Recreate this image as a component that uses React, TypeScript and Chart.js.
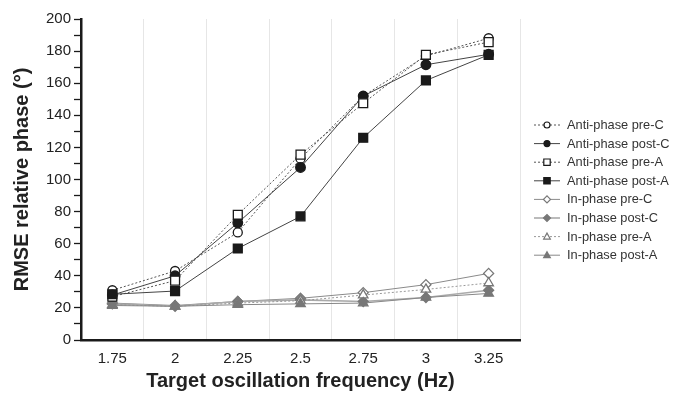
import React, { useEffect, useRef } from "react";
import { Chart, registerables } from "chart.js";

Chart.register(...registerables);

const categories = ["1.75", "2", "2.25", "2.5", "2.75", "3", "3.25"];

const antiPreC = [31, 43, 67, 113, 152, 177, 188];
const antiPostC = [28, 40, 73, 107.5, 152, 171.5, 178];
const antiPreA = [27, 37, 78, 115.5, 147.5, 177.7, 185.6];
const antiPostA = [28.5, 30.5, 57, 77, 126, 161.7, 177.7];
const inPreC = [23, 21.5, 24, 26, 29.5, 34.5, 41.5];
const inPostC = [22.5, 21, 24, 25, 24, 26.5, 31];
const inPreA = [22, 21, 23, 24.5, 28, 31.5, 35.5];
const inPostA = [21.5, 21, 22, 22.5, 23, 26.5, 29];

const seriesNames = [
  "Anti-phase pre-C",
  "Anti-phase post-C",
  "Anti-phase pre-A",
  "Anti-phase post-A",
  "In-phase pre-C",
  "In-phase post-C",
  "In-phase pre-A",
  "In-phase post-A",
];

const FONT = "'Liberation Sans', Arial, Helvetica, sans-serif";
const BLACK = "#1a1a1a";
const GRAY = "#777777";

type Style = {
  shape: "circle" | "rect" | "rectRot" | "triangle";
  fill: string;
  stroke: string;
  line: string;
  lineWidth: number;
  dash: number[];
  radius: number;
  order: number;
};

const styles: Style[] = [
  { shape: "circle", fill: "#ffffff", stroke: BLACK, line: "#555555", lineWidth: 1, dash: [2, 2], radius: 4.5, order: 3 },
  { shape: "circle", fill: BLACK, stroke: BLACK, line: "#444444", lineWidth: 1, dash: [], radius: 4.8, order: 2 },
  { shape: "rect", fill: "#ffffff", stroke: BLACK, line: "#555555", lineWidth: 1, dash: [2, 2], radius: 6.3, order: 1 },
  { shape: "rect", fill: BLACK, stroke: BLACK, line: "#444444", lineWidth: 1, dash: [], radius: 6.3, order: 0 },
  { shape: "rectRot", fill: "#ffffff", stroke: GRAY, line: "#8a8a8a", lineWidth: 1, dash: [], radius: 5, order: 7 },
  { shape: "rectRot", fill: GRAY, stroke: GRAY, line: "#aaaaaa", lineWidth: 1.6, dash: [], radius: 5, order: 6 },
  { shape: "triangle", fill: "#ffffff", stroke: GRAY, line: "#999999", lineWidth: 1, dash: [2, 2], radius: 5.5, order: 5 },
  { shape: "triangle", fill: GRAY, stroke: GRAY, line: "#888888", lineWidth: 1, dash: [], radius: 5.5, order: 4 },
];

const seriesData = [antiPreC, antiPostC, antiPreA, antiPostA, inPreC, inPostC, inPreA, inPostA];

function drawMarker(ctx: CanvasRenderingContext2D, shape: string, x: number, y: number, r: number) {
  ctx.beginPath();
  if (shape === "circle") {
    ctx.arc(x, y, r, 0, Math.PI * 2);
  } else if (shape === "rect") {
    ctx.rect(x - r, y - r, 2 * r, 2 * r);
  } else if (shape === "rectRot") {
    ctx.moveTo(x - r, y);
    ctx.lineTo(x, y - r);
    ctx.lineTo(x + r, y);
    ctx.lineTo(x, y + r);
    ctx.closePath();
  } else {
    ctx.moveTo(x, y - r);
    ctx.lineTo(x + r * 0.95, y + r * 0.7);
    ctx.lineTo(x - r * 0.95, y + r * 0.7);
    ctx.closePath();
  }
  ctx.fill();
  ctx.stroke();
}

const legendPlugin = {
  id: "customLegend",
  afterDraw(chart: any) {
    const ctx: CanvasRenderingContext2D = chart.ctx;
    const right = chart.chartArea.right;
    const x0 = right + 14;
    const x1 = right + 40;
    const mx = right + 27;
    const tx = right + 47;
    const y0 = 125;
    const step = 18.6;
    ctx.save();
    seriesNames.forEach((name, i) => {
      const s = styles[i];
      const y = y0 + i * step;
      ctx.strokeStyle = s.line;
      ctx.lineWidth = s.lineWidth;
      ctx.setLineDash(s.dash);
      ctx.beginPath();
      ctx.moveTo(x0, y);
      ctx.lineTo(x1, y);
      ctx.stroke();
      ctx.setLineDash([]);
      ctx.fillStyle = s.fill;
      ctx.strokeStyle = s.stroke;
      ctx.lineWidth = 1.2;
      const lr = s.shape === "rect" ? 3.2 : s.shape === "circle" ? 3 : 3.5;
      drawMarker(ctx, s.shape, mx, y, lr);
      ctx.fillStyle = "#333333";
      ctx.font = `12.8px ${FONT}`;
      ctx.textBaseline = "middle";
      ctx.textAlign = "left";
      ctx.fillText(name, tx, y + 0.5);
    });
    ctx.restore();
  },
};

export default function App() {
  const ref = useRef<HTMLCanvasElement | null>(null);

  useEffect(() => {
    if (!ref.current) return;
    const chart = new Chart(ref.current, {
      type: "line",
      data: {
        labels: categories,
        datasets: seriesNames.map((name, i) => {
          const s = styles[i];
          return {
            label: name,
            data: seriesData[i],
            borderColor: s.line,
            borderWidth: s.lineWidth,
            borderDash: s.dash,
            pointStyle: s.shape,
            pointRadius: s.radius,
            pointBackgroundColor: s.fill,
            pointBorderColor: s.stroke,
            pointBorderWidth: 1.3,
            fill: false,
            tension: 0,
            order: s.order,
          };
        }),
      },
      plugins: [legendPlugin],
      options: {
        responsive: false,
        animation: false,
        layout: { padding: { top: 19, right: 153, left: 0, bottom: 0 } },
        plugins: {
          legend: { display: false },
          tooltip: { enabled: false },
        },
        scales: {
          x: {
            offset: true,
            grid: {
              offset: true,
              color: "#e6e6e6",
              lineWidth: 1,
              drawTicks: false,
            },
            border: { color: "#1a1a1a", width: 2.5 },
            ticks: {
              color: "#222222",
              font: { family: FONT, size: 15 },
              padding: 10,
            },
            title: {
              display: true,
              text: "Target oscillation frequency (Hz)",
              color: "#222222",
              font: { family: FONT, size: 20, weight: "bold" },
              padding: { top: 2, bottom: 1 },
            },
            afterFit: (scale: any) => {
              scale.height = 54;
            },
          },
          y: {
            min: 0,
            max: 200,
            grid: {
              drawOnChartArea: false,
              drawTicks: true,
              tickLength: 7,
              tickColor: "#1a1a1a",
              tickWidth: 1.3,
            },
            border: { color: "#1a1a1a", width: 2.5 },
            ticks: {
              stepSize: 10,
              autoSkip: false,
              color: "#222222",
              font: { family: FONT, size: 15 },
              padding: 3,
              callback: (v: any) => (Number(v) % 20 === 0 ? String(v) : ""),
            },
            title: {
              display: true,
              text: "RMSE relative phase (°)",
              color: "#222222",
              font: { family: FONT, size: 20, weight: "bold" },
              padding: { top: 10, bottom: 0 },
            },
            afterFit: (scale: any) => {
              scale.width = 81;
            },
          },
        },
      },
    });
    return () => chart.destroy();
  }, []);

  return (
    <div style={{ position: "absolute", left: 0, top: 0, width: 673, height: 394, background: "#ffffff" }}>
      <canvas ref={ref} width={673} height={394} />
    </div>
  );
}
